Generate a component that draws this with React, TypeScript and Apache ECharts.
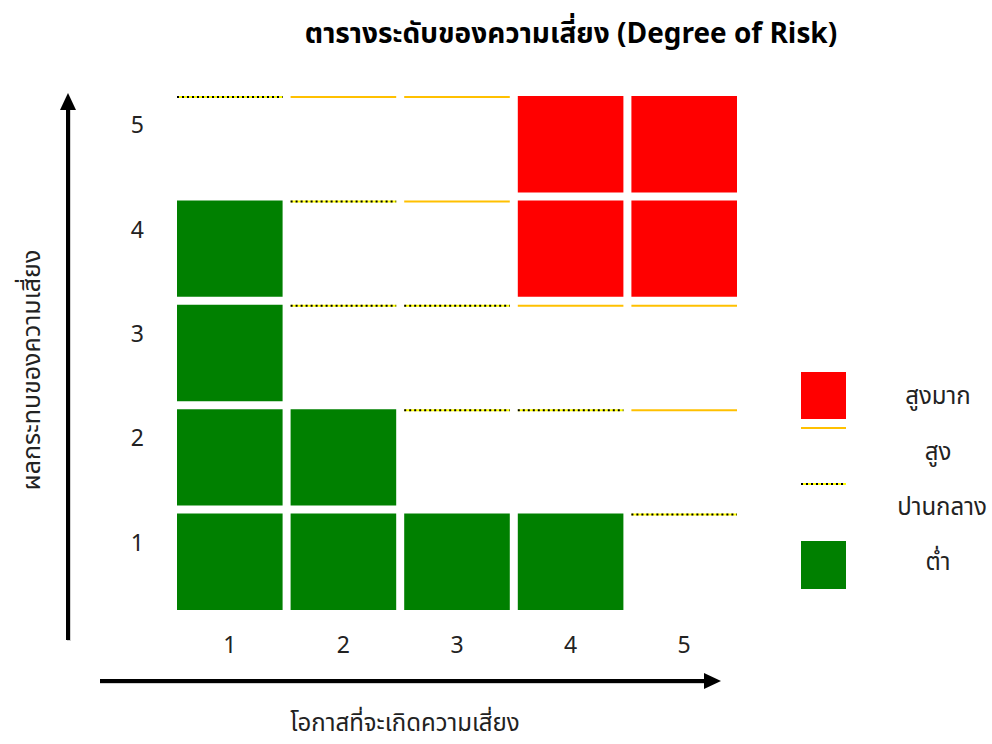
import React, { useEffect, useRef } from "react";
import * as echarts from "echarts";

const titleText = "ตารางระดับของความเสี่ยง (Degree of Risk)";
const xAxisName = "โอกาสที่จะเกิดความเสี่ยง";
const yAxisName = "ผลกระทบของความเสี่ยง";
const xCategories = ["1", "2", "3", "4", "5"];
const yCategories = ["1", "2", "3", "4", "5"];
// 0 = ต่ำ, 1 = ปานกลาง, 2 = สูง, 3 = สูงมาก
const levelNames = ["ต่ำ", "ปานกลาง", "สูง", "สูงมาก"];
const row1 = [0, 0, 0, 0, 1];
const row2 = [0, 0, 1, 1, 2];
const row3 = [0, 1, 1, 2, 2];
const row4 = [0, 1, 2, 3, 3];
const row5 = [1, 2, 2, 3, 3];
const rows = [row1, row2, row3, row4, row5];

const FONT = "'Noto Sans Thai', 'Noto Sans', 'DejaVu Sans', sans-serif";
const GREEN = "#008000";
const RED = "#FF0000";
const ORANGE = "#FFC000";
const YELLOW = "#FFFF00";

export default function App() {
  const ref = useRef<HTMLDivElement>(null);
  useEffect(() => {
    document.body.style.margin = "0";
    if (!ref.current) return;
    const chart = echarts.init(ref.current, undefined, { renderer: "svg" });
    const data: number[][] = [];
    rows.forEach((row, yi) => row.forEach((lvl, xi) => data.push([xi, yi, lvl])));

    const mediumLine = (x: number, y: number, w: number) => [
      { type: "line", shape: { x1: x, y1: y, x2: x + w, y2: y }, style: { stroke: YELLOW, lineWidth: 2 } },
      { type: "line", shape: { x1: x, y1: y, x2: x + w, y2: y }, style: { stroke: "#000", lineWidth: 2, lineDash: [2, 3] } },
    ];
    const labelStyle = { fontFamily: FONT, fontSize: 24, fill: "#222", textAlign: "center", textVerticalAlign: "middle" };

    chart.setOption({
      animation: false,
      title: {
        text: titleText,
        left: 566,
        top: 15,
        textAlign: "center",
        textStyle: { fontFamily: FONT, fontSize: 28, fontWeight: "bold", color: "#000" },
      },
      grid: { left: 173, top: 92, width: 568, height: 522 },
      xAxis: {
        type: "category",
        data: xCategories,
        axisLine: { show: false },
        axisTick: { show: false },
        splitLine: { show: false },
        axisLabel: { margin: 20, fontSize: 23, color: "#222", fontFamily: FONT },
      },
      yAxis: {
        type: "category",
        data: yCategories,
        axisLine: { show: false },
        axisTick: { show: false },
        splitLine: { show: false },
        axisLabel: { margin: 29, fontSize: 23, color: "#222", fontFamily: FONT, verticalAlign: "bottom", lineHeight: 36 },
      },
      series: [
        {
          type: "custom",
          data,
          renderItem: (params: any, api: any) => {
            const xi = api.value(0);
            const yi = api.value(1);
            const lvl = api.value(2);
            const c = api.coord([xi, yi]);
            const s = api.size([1, 1]);
            const w = s[0] - 8;
            const h = s[1] - 8;
            const x0 = c[0] - w / 2;
            const y0 = c[1] - h / 2;
            if (lvl === 0 || lvl === 3) {
              return { type: "rect", shape: { x: x0, y: y0, width: w, height: h }, style: { fill: lvl === 0 ? GREEN : RED } };
            }
            if (lvl === 2) {
              return { type: "line", shape: { x1: x0, y1: y0 + 1, x2: x0 + w, y2: y0 + 1 }, style: { stroke: ORANGE, lineWidth: 2 } };
            }
            return { type: "group", children: mediumLine(x0, y0 + 1, w) };
          },
        },
      ],
      graphic: [
        // y arrow
        { type: "rect", shape: { x: 67, y: 106, width: 4, height: 535 }, style: { fill: "rgba(0,0,0,0.18)" } },
        { type: "rect", shape: { x: 66, y: 106, width: 4, height: 534 }, style: { fill: "#000" } },
        { type: "polygon", shape: { points: [[68, 93], [60, 110], [76, 110]] }, style: { fill: "#000" } },
        // x arrow
        { type: "rect", shape: { x: 100, y: 680, width: 606, height: 4 }, style: { fill: "rgba(0,0,0,0.18)" } },
        { type: "rect", shape: { x: 100, y: 679, width: 606, height: 4 }, style: { fill: "#000" } },
        { type: "polygon", shape: { points: [[721, 681], [704, 673], [704, 689]] }, style: { fill: "#000" } },
        // axis names
        { type: "text", x: 405, y: 724, style: { ...labelStyle, text: xAxisName, fontSize: 24 } },
        { type: "text", x: 32, y: 370, rotation: Math.PI / 2, style: { ...labelStyle, text: yAxisName, fontSize: 25 } },
        // legend
        { type: "rect", shape: { x: 801, y: 372, width: 45, height: 47 }, style: { fill: RED } },
        { type: "line", shape: { x1: 801, y1: 428, x2: 846, y2: 428 }, style: { stroke: ORANGE, lineWidth: 2 } },
        { type: "line", shape: { x1: 801, y1: 484, x2: 846, y2: 484 }, style: { stroke: YELLOW, lineWidth: 2 } },
        { type: "line", shape: { x1: 801, y1: 484, x2: 846, y2: 484 }, style: { stroke: "#000", lineWidth: 2, lineDash: [2, 3] } },
        { type: "rect", shape: { x: 801, y: 541, width: 45, height: 48 }, style: { fill: GREEN } },
        { type: "text", x: 938, y: 397, style: { ...labelStyle, text: levelNames[3] } },
        { type: "text", x: 938, y: 453, style: { ...labelStyle, text: levelNames[2] } },
        { type: "text", x: 942, y: 508, style: { ...labelStyle, text: levelNames[1] } },
        { type: "text", x: 938, y: 563, style: { ...labelStyle, text: levelNames[0] } },
      ],
    });
    return () => chart.dispose();
  }, []);
  return <div ref={ref} style={{ position: "absolute", left: 0, top: 0, width: 992, height: 744 }} />;
}
